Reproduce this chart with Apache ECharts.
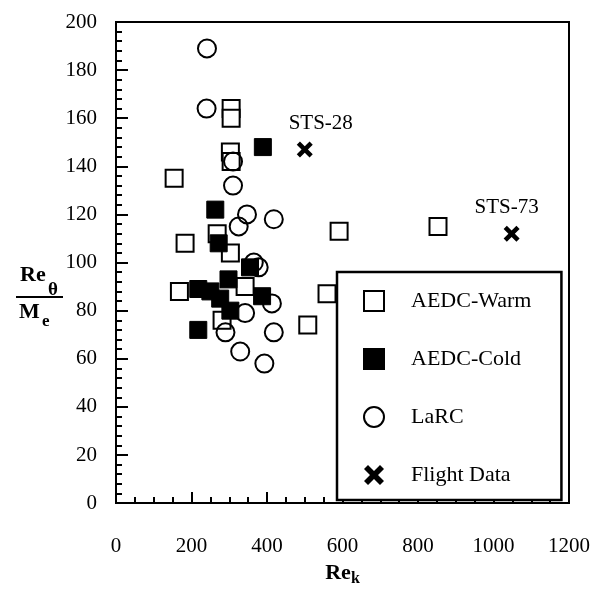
<!DOCTYPE html>
<html>
<head>
<meta charset="utf-8">
<script src="https://cdn.jsdelivr.net/npm/echarts@6/dist/echarts.min.js"></script>
<style>
html, body { margin: 0; padding: 0; background: #fff; }
#chart { width: 598px; height: 592px; }
</style>
</head>
<body>
<div id="chart"></div>
<script>
// values
var warmRe    = [154, 183, 168, 305, 305, 303, 305, 268, 303, 342, 281, 591, 853, 559, 508];
var warmRatio = [135, 108, 88, 164, 160, 146, 142, 112, 104, 90, 76, 113, 115, 87, 74];

var coldRe    = [389, 263, 272, 355, 298, 218, 250, 276, 303, 387, 218];
var coldRatio = [148, 122, 108, 98, 93, 89, 88, 85, 80, 86, 72];

var larcRe    = [241, 240, 310, 310, 347, 325, 418, 365, 378, 413, 342, 290, 418, 329, 393];
var larcRatio = [189, 164, 142, 132, 120, 115, 118, 100, 98, 83, 79, 71, 71, 63, 58];

var flightRe    = [500, 1048];
var flightRatio = [147, 112];
var flightNames = ['STS-28', 'STS-73'];

var xTicks = [0, 200, 400, 600, 800, 1000, 1200];
var yTicks = [0, 20, 40, 60, 80, 100, 120, 140, 160, 180, 200];

var FONT = '"Liberation Serif", "DejaVu Serif", serif';
var crossPath = 'path://M0,4 L4,0 L10,6 L16,0 L20,4 L14,10 L20,16 L16,20 L10,14 L4,20 L0,16 L6,10 Z';

function pairs(xs, ys) {
    return xs.map(function (x, i) { return [x, ys[i]]; });
}

var myChart = echarts.init(document.getElementById('chart'));
var option = {
    backgroundColor: '#fff',
    animation: false,
    grid: {
        left: 116,
        right: 29,
        top: 22,
        bottom: 86,
        show: true,
        borderColor: '#000',
        borderWidth: 2,
        backgroundColor: 'transparent'
    },
    legend: {
        orient: 'vertical',
        left: 337,
        top: 272,
        padding: [18, 30, 14, 26],
        itemGap: 36,
        itemWidth: 20,
        itemHeight: 20,
        backgroundColor: '#fff',
        borderColor: '#000',
        borderWidth: 2.5,
        borderRadius: 0,
        textStyle: { fontFamily: FONT, fontSize: 22, color: '#000', padding: [0, 0, 0, 22] },
        data: ['AEDC-Warm', 'AEDC-Cold', 'LaRC', 'Flight Data']
    },
    xAxis: {
        type: 'value',
        min: xTicks[0],
        max: xTicks[xTicks.length - 1],
        interval: 200,
        name: '{a|Re}{b|k}',
        nameLocation: 'middle',
        nameGap: 55,
        nameTextStyle: {
            rich: {
                a: { fontFamily: FONT, fontSize: 22, color: '#000', fontWeight: 'bold' },
                b: { fontFamily: FONT, fontSize: 16, color: '#000', fontWeight: 'bold', padding: [12, 0, 0, 0] }
            }
        },
        axisLine: { show: true, lineStyle: { color: '#000', width: 2 } },
        axisTick: { show: true, inside: true, length: 11, lineStyle: { color: '#000', width: 2 } },
        minorTick: { show: true, splitNumber: 4, length: 6, lineStyle: { color: '#000', width: 2 } },
        splitLine: { show: false },
        axisLabel: {
            margin: 33,
            fontFamily: FONT,
            fontSize: 21,
            color: '#000',
            formatter: function (v) { return String(v); }
        }
    },
    yAxis: {
        type: 'value',
        min: yTicks[0],
        max: yTicks[yTicks.length - 1],
        interval: 20,
        axisLine: { show: true, lineStyle: { color: '#000', width: 2 } },
        axisTick: { show: true, inside: true, length: 12, lineStyle: { color: '#000', width: 2 } },
        minorTick: { show: true, splitNumber: 5, length: 6, lineStyle: { color: '#000', width: 2 } },
        splitLine: { show: false },
        axisLabel: { margin: 19, fontFamily: FONT, fontSize: 21, color: '#000' }
    },
    graphic: [
        { type: 'text', left: 20, top: 264, style: { text: 'Re', font: 'bold 22px ' + FONT, fill: '#000' } },
        { type: 'text', left: 48, top: 281, style: { text: 'θ', font: 'bold 19px ' + FONT, fill: '#000' } },
        { type: 'line', shape: { x1: 16, y1: 297, x2: 63, y2: 297 }, style: { stroke: '#000', lineWidth: 2 } },
        { type: 'text', left: 19, top: 301, style: { text: 'M', font: 'bold 22px ' + FONT, fill: '#000' } },
        { type: 'text', left: 42, top: 313, style: { text: 'e', font: 'bold 17px ' + FONT, fill: '#000' } }
    ],
    series: [
        {
            name: 'AEDC-Warm',
            type: 'scatter',
            symbol: 'rect',
            symbolSize: 17,
            itemStyle: { color: '#fff', borderColor: '#000', borderWidth: 2, opacity: 1 },
            data: pairs(warmRe, warmRatio)
        },
        {
            name: 'AEDC-Cold',
            type: 'scatter',
            symbol: 'rect',
            symbolSize: 17,
            itemStyle: { color: '#000', borderColor: '#000', borderWidth: 1, opacity: 1 },
            data: pairs(coldRe, coldRatio)
        },
        {
            name: 'LaRC',
            type: 'scatter',
            symbol: 'circle',
            symbolSize: 18,
            itemStyle: { color: 'rgba(255,255,255,0)', borderColor: '#000', borderWidth: 2, opacity: 1 },
            data: pairs(larcRe, larcRatio)
        },
        {
            name: 'Flight Data',
            type: 'scatter',
            symbol: crossPath,
            symbolSize: 16,
            itemStyle: { color: '#000', opacity: 1 },
            label: {
                show: true,
                position: 'top',
                distance: 8,
                fontFamily: FONT,
                fontSize: 21,
                color: '#000',
                formatter: function (p) { return flightNames[p.dataIndex]; }
            },
            labelLayout: function (p) {
                return p.dataIndex === 0 ? { dx: 16 } : { dx: -5 };
            },
            data: pairs(flightRe, flightRatio)
        }
    ]
};
myChart.setOption(option);
window.addEventListener('resize', function () {
    myChart.resize();
});
</script>
</body>
</html>
